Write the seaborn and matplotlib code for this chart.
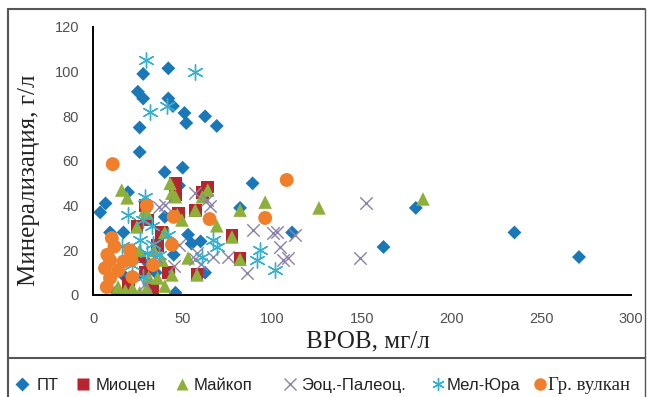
import numpy as np
import pandas as pd
import seaborn as sns
import matplotlib.pyplot as plt
from matplotlib.lines import Line2D

# values (x = ВРОВ, мг/л ; y = минерализация, г/л)
pt_x = [4, 7, 9.5, 17, 19.5, 13, 46, 25, 28, 28, 42, 42, 44.6, 51, 52, 62.5, 69, 26, 26, 40,
        50, 89, 82, 111, 53, 60, 55, 62.5, 180, 162, 235, 271, 22, 35, 40, 31, 18, 45, 48]
pt_y = [37, 41, 28, 28, 46, 1.5, 1, 91, 88, 99, 101.5, 88, 84.6, 81.5, 77, 80, 75.7, 75, 64, 55,
        57, 50, 39, 28, 27, 24, 23, 10, 39, 21.5, 28, 17, 20, 10, 35, 14, 8, 18, 49]

mio_x = [29, 38, 24.5, 46, 46, 64, 61, 57, 77.5, 82, 58, 47.6, 29, 42, 26, 30.6, 36, 20, 33]
mio_y = [40, 28, 30.5, 50, 45, 48.4, 46, 38, 26.5, 16.6, 9, 36.7, 10, 10, 17, 33.6, 22, 5, 3]

maik_x = [184, 126, 16, 19, 24.5, 30, 43, 44, 49.6, 64, 57, 69, 77.5, 82, 96, 82, 53, 58, 40,
          38.5, 14, 22, 26, 31, 36, 44, 30, 29, 46, 61, 47, 34, 26, 18, 40]
maik_y = [43, 39, 47, 43.5, 30.5, 36.7, 50, 45.6, 33.6, 47, 38, 31, 26, 16, 41.6, 38, 16.6, 9, 28,
          15.6, 3.6, 3, 1, 8, 7.6, 9, 3, 38, 44, 44, 36, 20, 20, 2, 4]

eoc_x = [152, 149, 89, 102.6, 112.6, 104, 109, 86, 75, 67, 63.6, 57, 65, 106, 100.6, 37, 40,
         57, 58, 48, 29, 45, 35, 60]
eoc_y = [41, 16.6, 29, 28, 27, 21.6, 16.6, 10, 17, 17, 42.5, 45.6, 40, 15.6, 27.6, 39.5, 40.5,
         16, 19, 22.6, 5, 13, 17, 14]

mel_x = [29.5, 57, 32, 41, 29, 67, 69, 93, 91.5, 101.6, 61, 28, 33, 19.5, 26, 30, 33.6, 22, 28,
         37, 16, 42]
mel_y = [105, 100, 82, 84.6, 44, 24.6, 21.6, 20, 15.6, 11, 17, 33.6, 31, 36, 24.6, 19, 23, 13.4, 8,
         18, 22, 27]

vulk_x = [11, 108, 30, 45, 65, 96, 44, 10.5, 12, 20.6, 9.5, 17, 6.7, 9.5, 7.7, 22, 33.5, 21.5,
          14, 8]
vulk_y = [58.6, 51.5, 40, 35, 34, 34.5, 22.5, 25.5, 21.7, 20, 15.6, 15, 12, 7.5, 3.6, 8, 13.4,
          15.7, 11, 18]

groups = ['ПТ', 'Миоцен', 'Майкоп', 'Эоц.-Палеоц.', 'Мел-Юра', 'Гр. вулкан']
xs = [pt_x, mio_x, maik_x, eoc_x, mel_x, vulk_x]
ys = [pt_y, mio_y, maik_y, eoc_y, mel_y, vulk_y]

frames = []
for g, x, y in zip(groups, xs, ys):
    frames.append(pd.DataFrame({'vrov': x, 'mineral': y, 'group': g}))
df = pd.concat(frames, ignore_index=True)

style = {
    'ПТ': dict(marker='D', color='#1a78b8', s=50, edgecolor='none'),
    'Миоцен': dict(marker='s', color='#b5242f', s=85, edgecolor='none'),
    'Майкоп': dict(marker='^', color='#8db03b', s=95, edgecolor='none'),
    'Эоц.-Палеоц.': dict(marker='x', color='#8a82aa', s=80, linewidth=1.0),
    'Мел-Юра': dict(marker=(6, 2, 0), color='#35b0cf', s=120, linewidth=1.0),
    'Гр. вулкан': dict(marker='o', color='#f07f2c', s=100, edgecolor='none'),
}

sns.set_style('white')
plt.rcParams['font.family'] = ['Liberation Sans', 'DejaVu Sans']

W, H = 647, 397
fig = plt.figure(figsize=(W / 100, H / 100), dpi=100)
ax = fig.add_axes([93 / W, 1 - 295 / H, (631 - 93) / W, (295 - 27) / H])

for g in groups:
    sub = df[df['group'] == g]
    sns.scatterplot(data=sub, x='vrov', y='mineral', ax=ax, label=g, legend=False, **style[g])

ax.set_xlim(0, 300)
ax.set_ylim(0, 120)
ax.set_xticks(np.arange(0, 301, 50))
ax.set_yticks(np.arange(0, 121, 20))
sns.despine(ax=ax)
for sp in ['left', 'bottom']:
    ax.spines[sp].set_color('black')
    ax.spines[sp].set_linewidth(1.4)
ax.tick_params(axis='both', direction='out', length=6, width=1.2, color='black',
               labelsize=10.5, labelcolor='#505050')
ax.tick_params(axis='x', pad=6)
ax.tick_params(axis='y', pad=4)

ax.set_xlabel('ВРОВ, мг/л', family='Liberation Serif', fontsize=18, color='#222222')
ax.set_ylabel('Минерализация, г/л', family='Liberation Serif', fontsize=18, color='#222222')
ax.xaxis.set_label_coords(0.511, -0.172)
ax.xaxis.label.set_va('center')
ax.yaxis.set_label_coords(-0.119, 0.43)
ax.yaxis.label.set_va('center')
ax.yaxis.label.set_ha('center')

# frame lines around chart and legend
lc = '#555555'
fig.add_artist(Line2D([8 / W, 645 / W], [1 - 9 / H] * 2, color=lc, lw=1.5))
fig.add_artist(Line2D([8 / W, 645 / W], [1 - 358 / H] * 2, color=lc, lw=1.5))
fig.add_artist(Line2D([8 / W] * 2, [0, 1 - 9 / H], color=lc, lw=1.5))
fig.add_artist(Line2D([645 / W] * 2, [0, 1 - 9 / H], color=lc, lw=1.0))

# legend row below the chart
leg_marker_x = [22, 83, 182, 290, 438, 540]
leg_text_x = [37, 96, 194, 301, 447, 548]
leg_y = 1 - 384 / H
for g, mx, tx in zip(groups, leg_marker_x, leg_text_x):
    st = style[g]
    filled = st['marker'] not in ('x', (6, 2, 0))
    fig.add_artist(Line2D([mx / W], [leg_y], linestyle='none', marker=st['marker'],
                          markersize=9 if st['marker'] != 'D' else 7.5,
                          markerfacecolor=st['color'] if filled else 'none',
                          markeredgecolor=st['color'] if not filled else 'none',
                          markeredgewidth=1.0))
    if g == 'Гр. вулкан':
        fig.text(tx / W, leg_y, g, family='Liberation Serif', fontsize=13.5,
                 color='#222222', va='center_baseline', ha='left')
    else:
        fig.text(tx / W, leg_y, g, fontsize=12, color='#222222', va='center_baseline',
                 ha='left')

fig.savefig('out.png', dpi=100)
